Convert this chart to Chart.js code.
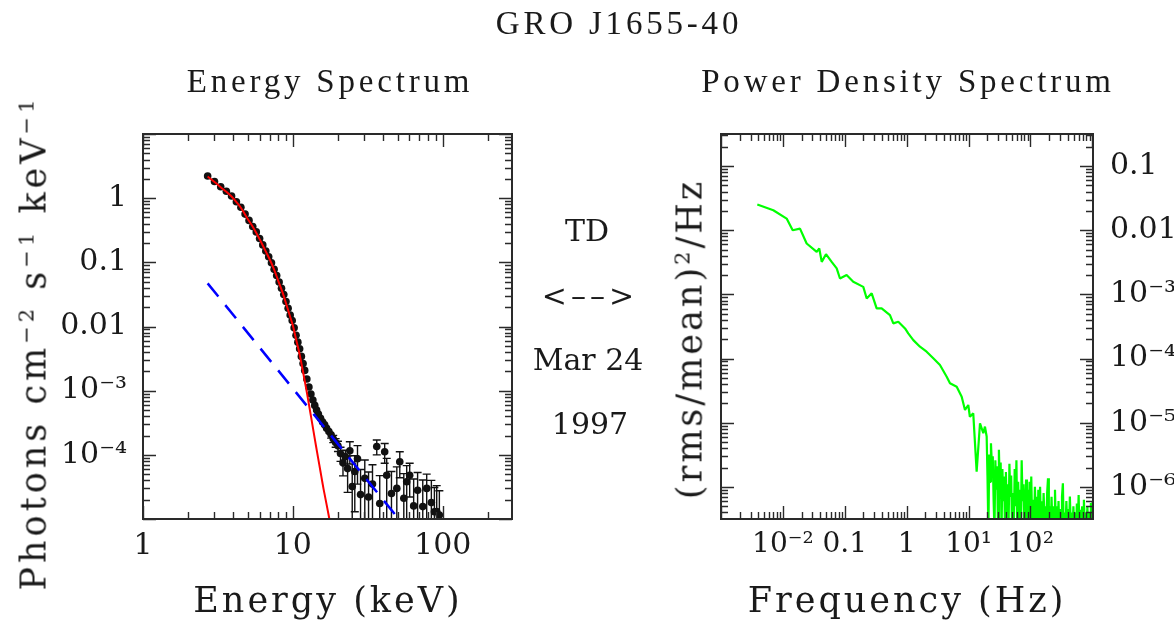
<!DOCTYPE html>
<html>
<head>
<meta charset="utf-8">
<title>GRO J1655-40</title>
<script src="https://cdn.jsdelivr.net/npm/chart.js@4.4.1/dist/chart.umd.min.js"></script>
<style>
  html, body { margin: 0; padding: 0; background: #fff; }
  #wrap { position: relative; width: 1174px; height: 623px; overflow: hidden; font-family: "DejaVu Serif", serif; color: #1a1a1a; }
  canvas { position: absolute; left: 0; top: 0; }
  .txt { position: absolute; white-space: nowrap; line-height: 1; transform: translate(-50%, -50%); }
  .title { font-family: "Liberation Serif", serif; font-size: 33px; letter-spacing: 3.8px; }
  .axis { font-size: 35px; letter-spacing: 3px; }
  .mid { font-size: 30px; }
  .rot { transform: translate(-50%, -50%) rotate(-90deg); }
  sup { font-size: 0.6em; vertical-align: 0.55em; line-height: 0; }
</style>
</head>
<body>
<div id="wrap">
  <canvas id="spec" width="1174" height="623"></canvas>
  <canvas id="pds" width="1174" height="623"></canvas>

  <div class="txt title" style="left:619px; top:23px;">GRO J1655-40</div>
  <div class="txt title" style="left:330px; top:81px;">Energy Spectrum</div>
  <div class="txt title" style="left:908px; top:81px;">Power Density Spectrum</div>

  <div class="txt axis" style="left:328px; top:600px;">Energy (keV)</div>
  <div class="txt axis" style="left:907px; top:600px;">Frequency (Hz)</div>
  <div class="txt axis rot" style="left:34px; top:343px; letter-spacing:4px;">Photons cm<sup>−2</sup> s<sup>−1</sup> keV<sup>−1</sup></div>
  <div class="txt axis rot" style="left:690px; top:339px;">(rms/mean)<sup>2</sup>/Hz</div>

  <div class="txt mid" style="left:587px; top:231px;">TD</div>
  <div class="txt mid" style="left:590px; top:296px; letter-spacing:4px;">&lt;––&gt;</div>
  <div class="txt mid" style="left:588px; top:360px;">Mar 24</div>
  <div class="txt mid" style="left:590px; top:424px;">1997</div>
</div>

<script>
// ---- energy spectrum: unfolded photon spectrum ----
const specEnergy = [2.7, 3.0, 3.3, 3.6, 3.9, 4.2, 4.5, 4.8, 5.1, 5.4, 5.7, 6.0, 6.3, 6.6, 6.9,
  7.2, 7.5, 7.8, 8.1, 8.4, 8.7, 9.0, 9.3, 9.6, 9.9, 10.2, 10.5, 10.8, 11.1, 11.4, 11.7, 12.0,
  12.4, 12.8, 13.2, 13.6, 14.0, 14.4, 14.8, 15.3, 15.8, 16.3, 16.8, 17.4, 18.0, 18.6, 19.3,
  20.0, 20.8, 21.6, 22.4, 23.2, 24.0, 24.9, 25.9, 27.0, 28.3, 30.2, 32.0, 34.0, 36.3, 38.0,
  41.0, 42.3, 45.5, 49.4, 51.7, 55.0, 57.5, 60.2, 64.0, 68.0, 73.6, 78.2, 84.0, 88.0, 91.2, 95.0];
const specFlux = [2.22, 1.82, 1.51, 1.28, 1.08, 0.88, 0.72, 0.565, 0.45, 0.362, 0.298, 0.235,
  0.187, 0.150, 0.122, 0.0982, 0.0778, 0.0621, 0.0493, 0.0394, 0.0314, 0.0245, 0.0192, 0.0151,
  0.0124, 0.00953, 0.00732, 0.0057, 0.00449, 0.00342, 0.00264, 0.00207, 0.00152, 0.00114,
  8.88e-4, 7.13e-4, 5.89e-4, 5.0e-4, 4.34e-4, 3.72e-4, 3.24e-4, 2.95e-4, 2.6e-4, 2.3e-4,
  2.05e-4, 1.78e-4, 1.55e-4, 1.38e-4, 1.05e-4, 7.5e-5, 9.3e-5, 6.1e-5, 1.16e-4, 3.2e-5,
  5.5e-5, 8.7e-5, 2.4e-5, 4.3e-5, 2.2e-5, 3.5e-5, 1.35e-4, 1.74e-5, 1.12e-4, 4.8e-5, 2.5e-5,
  3.0e-5, 7.8e-5, 2.1e-5, 3.8e-5, 4.8e-5, 1.6e-5, 2.8e-5, 1.56e-5, 3.0e-5, 1.8e-5, 1.3e-5,
  1.31e-5, 1.15e-5];
const specErr = [0.03, 0.025, 0.02, 0.017, 0.014, 0.012, 0.01, 0.008, 0.006, 0.005, 0.004, 0.0033,
  0.0027, 0.0022, 0.0018, 0.0015, 0.0012, 0.001, 0.0008, 0.00065, 0.00052, 0.00042, 0.00034,
  0.00028, 0.00024, 0.0002, 0.00016, 0.00013, 0.00011, 9e-5, 7e-5, 6e-5, 5e-5, 4e-5, 3.4e-5,
  3e-5, 2.7e-5, 2.5e-5, 2.4e-5, 2.3e-5, 2.2e-5, 2.2e-5, 2.2e-5, 2.2e-5, 2.3e-5, 2.3e-5, 2.4e-5,
  2.5e-5, 2.6e-5, 2.8e-5, 2.5e-5, 3.5e-5, 4.4e-5, 4.0e-5, 4.2e-5, 5.2e-5, 3.5e-5, 4.0e-5,
  3.2e-5, 3.5e-5, 3.5e-5, 3.0e-5, 3.8e-5, 4.0e-5, 3.0e-5, 3.5e-5, 3.4e-5, 3.0e-5, 3.0e-5,
  2.6e-5, 2.6e-5, 2.5e-5, 2.5e-5, 2.0e-5, 2.2e-5, 1.8e-5, 2.0e-5, 1.6e-5];

// multicolour disk component (red)
const diskEnergy = [2.7, 3.0, 3.3, 3.6, 3.9, 4.2, 4.5, 5.0, 5.5, 6.0, 6.5, 7.0, 7.5, 8.0, 8.5,
  9.0, 9.5, 10, 10.5, 11, 11.5, 12, 12.5, 13, 13.5, 14, 14.5, 15, 15.5, 16, 16.5, 17, 17.5, 18];
const diskFlux = [2.17, 1.785, 1.484, 1.26, 1.061, 0.868, 0.708, 0.475, 0.334, 0.230, 0.1577,
  0.1118, 0.0773, 0.0511, 0.0349, 0.0230, 0.0152, 0.01035, 0.00638, 0.00403, 0.0024, 0.001426,
  8.45e-4, 4.95e-4, 2.96e-4, 1.79e-4, 1.11e-4, 7.1e-5, 4.57e-5, 3.0e-5, 2.08e-5, 1.45e-5,
  1.02e-5, 7.2e-6];

// power-law component (blue dashed)
const plEnergy = [2.7, 5, 10, 20, 50, 60];
const plFlux = [0.047, 7.96e-3, 1.08e-3, 1.47e-4, 1.05e-5, 6.2e-6];

const energyTicks = [1, 10, 100];
const energyTickText = ['1', '10', '100'];
const fluxTicks = [1, 0.1, 0.01, 1e-3, 1e-4];
const fluxTickText = ['1', '0.1', '0.01', '10⁻³', '10⁻⁴'];

// ---- power density spectrum ----
const pdsFreq = [3.86e-3, 7.0e-3, 0.0115, 0.0144, 0.0189, 0.0242, 0.0352, 0.0387, 0.0424, 0.0497,
  0.0614, 0.0740, 0.0836, 0.107, 0.137, 0.199, 0.226, 0.272, 0.327, 0.394,
  0.537, 0.608, 0.732, 0.94, 1.06, 1.28, 1.64, 2.10, 2.69, 3.45,
  4.43, 5.01, 6.43, 7.74, 8.75, 9.89, 10.5, 11.9, 13.5, 15.3,
  17.3, 18.4,
  19.6, 20.2, 20.9, 21.6, 22.3, 23.0, 23.8, 24.6, 25.4, 26.2,
  27.1, 28.0, 28.9, 29.9, 30.9, 31.9, 33.0, 34.1, 35.2, 36.4,
  37.6, 38.8, 40.1, 41.4, 42.8, 44.2, 45.7, 47.2, 48.8, 50.4,
  52.1, 53.8, 55.6, 57.4, 59.3, 61.3, 63.3, 65.4, 67.6, 69.8,
  72.1, 74.5, 77.0, 79.5, 82.2, 84.9, 87.7, 90.6, 93.6, 96.7,
  99.9, 103, 107, 110, 114, 118, 122, 126, 130, 134,
  139, 143, 148, 153, 158, 163, 169, 174, 180, 186,
  192, 198, 205, 212, 219, 226, 233, 241, 249, 257,
  266, 275, 284, 293, 303, 313, 323, 334, 345, 356,
  368, 380, 393, 406, 419, 433, 448, 462, 478, 494,
  510, 527, 544, 562, 581, 600, 620, 641, 662, 684,
  706, 730, 754, 779, 805, 831, 859, 887, 917, 947,
  978, 1010, 1024];
const pdsPower = [0.0251, 0.0205, 0.0152, 0.0100, 0.0106, 6.21e-3, 4.59e-3, 5.19e-3, 3.21e-3, 4.23e-3,
  3.21e-3, 2.54e-3, 1.77e-3, 2.0e-3, 1.57e-3, 1.31e-3, 8.65e-4, 1.04e-3, 6.04e-4, 6.04e-4,
  4.75e-4, 3.53e-4, 3.74e-4, 2.95e-4, 2.47e-4, 1.94e-4, 1.53e-4, 1.28e-4, 1.01e-4, 7.92e-5,
  5.21e-5, 4.11e-5, 3.64e-5, 2.54e-5, 1.58e-5, 1.89e-5, 1.24e-5, 1.40e-5, 1.73e-6, 9.8e-6,
  6.85e-6, 8.7e-6,
  6.1e-6, 1.5e-6, 2e-7, 3.2e-6, 1.2e-6, 4.8e-6, 2.2e-6, 3.0e-6, 6e-7, 2e-7,
  2.6e-6, 9e-7, 2.1e-6, 2e-7, 3.8e-6, 1.1e-6, 2.4e-6, 2e-7, 1.9e-6, 6e-7,
  1.45e-6, 2e-7, 1.7e-6, 4e-7, 1.1e-6, 2e-7, 2.3e-6, 7e-7, 1.5e-6, 2e-7,
  8e-7, 2e-7, 1.9e-6, 5e-7, 2.6e-6, 2e-7, 1.2e-6, 3e-7, 9e-7, 2e-7,
  2.6e-6, 6e-7, 1.1e-6, 2e-7, 4.4e-7, 1.3e-6, 2e-7, 9e-7, 2.5e-7, 1.2e-6,
  3e-7, 1.45e-6, 2e-7, 6.3e-7, 2e-7, 1.0e-6, 3e-7, 7e-7, 2e-7, 9e-7,
  2.5e-7, 1.0e-6, 2e-7, 6e-7, 2e-7, 8e-7, 3e-7, 5e-7, 2e-7, 8e-7,
  1.36e-6, 2e-7, 5e-7, 2e-7, 7e-7, 2.5e-7, 5e-7, 2e-7, 9e-7, 2.5e-7,
  5e-7, 2e-7, 6e-7, 2e-7, 4.5e-7, 2e-7, 7e-7, 1.14e-6, 2e-7, 4e-7,
  2e-7, 6e-7, 2.5e-7, 4.5e-7, 2e-7, 7.1e-7, 2.5e-7, 4e-7, 2e-7, 5e-7,
  2e-7, 4e-7, 2e-7, 5.5e-7, 2.5e-7, 7.5e-7, 2e-7, 4.4e-7, 2e-7, 5e-7,
  2e-7, 6.3e-7, 2.5e-7, 4e-7, 2e-7, 5e-7, 2e-7, 4e-7, 2e-7, 5.6e-7,
  2.5e-7, 6e-7, 4.5e-7];

const freqTicks = [0.01, 0.1, 1, 10, 100];
const freqTickText = ['10⁻²', '0.1', '1', '10¹', '10²'];
const powerTicks = [0.1, 0.01, 1e-3, 1e-4, 1e-5, 1e-6];
const powerTickText = ['0.1', '0.01', '10⁻³', '10⁻⁴', '10⁻⁵', '10⁻⁶'];

const W = 1174, H = 623;
const ink = '#2a2a2a';

function pairs(xs, ys) {
  return xs.map((x, i) => ({ x: x, y: ys[i] }));
}

function tickLabel(vals, texts) {
  return function (v) {
    for (let i = 0; i < vals.length; i++) {
      if (Math.abs(v / vals[i] - 1) < 1e-6) return texts[i];
    }
    return '';
  };
}

// box plus inward log ticks on all four sides
const framePlugin = {
  id: 'frame',
  afterDatasetsDraw(chart) {
    const { ctx, chartArea: a } = chart;
    const sx = chart.scales.x, sy = chart.scales.y;
    ctx.save();
    ctx.strokeStyle = ink;
    ctx.lineWidth = 1.4;
    ctx.beginPath();
    const walk = (scale, fn) => {
      const lo = Math.floor(Math.log10(scale.min)), hi = Math.ceil(Math.log10(scale.max));
      for (let e = lo; e <= hi; e++) {
        for (let m = 1; m <= 9; m++) {
          const v = m * Math.pow(10, e);
          if (v < scale.min * 0.9999 || v > scale.max * 1.0001) continue;
          fn(scale.getPixelForValue(v), m === 1 ? 13 : 7);
        }
      }
    };
    walk(sx, (p, len) => {
      p = Math.round(p) + 0.5;
      ctx.moveTo(p, a.bottom); ctx.lineTo(p, a.bottom - len);
      ctx.moveTo(p, a.top); ctx.lineTo(p, a.top + len);
    });
    walk(sy, (p, len) => {
      p = Math.round(p) + 0.5;
      ctx.moveTo(a.left, p); ctx.lineTo(a.left + len, p);
      ctx.moveTo(a.right, p); ctx.lineTo(a.right - len, p);
    });
    ctx.stroke();
    ctx.lineWidth = 2;
    ctx.strokeRect(a.left, a.top, a.right - a.left, a.bottom - a.top);
    ctx.restore();
  }
};

// energy bin bars and flux error bars, under the points
const errorBarPlugin = {
  id: 'errbars',
  beforeDatasetsDraw(chart) {
    const { ctx, chartArea: a } = chart;
    const sx = chart.scales.x, sy = chart.scales.y;
    const n = specEnergy.length;
    ctx.save();
    ctx.beginPath();
    ctx.rect(a.left, a.top, a.right - a.left, a.bottom - a.top);
    ctx.clip();
    ctx.strokeStyle = '#111';
    ctx.lineWidth = 1.4;
    ctx.beginPath();
    specEnergy.forEach((e, i) => {
      const x = sx.getPixelForValue(e);
      const y = sy.getPixelForValue(specFlux[i]);
      // bin edges half way (in log) to the neighbouring channels
      const xl = i > 0 ? (x + sx.getPixelForValue(specEnergy[i - 1])) / 2 : x - 2;
      const xr = i < n - 1 ? (x + sx.getPixelForValue(specEnergy[i + 1])) / 2 : x + 2;
      ctx.moveTo(xl, y); ctx.lineTo(xr, y);
      const hiV = specFlux[i] + specErr[i];
      const loV = specFlux[i] - specErr[i];
      const yHi = sy.getPixelForValue(hiV);
      const yLo = loV > sy.min ? sy.getPixelForValue(loV) : a.bottom + 5;
      ctx.moveTo(x, yHi); ctx.lineTo(x, yLo);
      if (y - yHi > 3) { ctx.moveTo(x - 4, yHi); ctx.lineTo(x + 4, yHi); }
      if (loV > sy.min && yLo - y > 3) { ctx.moveTo(x - 4, yLo); ctx.lineTo(x + 4, yLo); }
    });
    ctx.stroke();
    ctx.restore();
  }
};

const tickFont = { family: 'DejaVu Serif', size: 30 };

new Chart(document.getElementById('spec'), {
  type: 'scatter',
  data: {
    datasets: [
      {
        label: 'disk',
        data: pairs(diskEnergy, diskFlux),
        showLine: true,
        borderColor: '#ff0000',
        borderWidth: 2,
        pointRadius: 0,
        tension: 0.3
      },
      {
        label: 'power law',
        data: pairs(plEnergy, plFlux),
        showLine: true,
        borderColor: '#0000ff',
        borderWidth: 2.5,
        borderDash: [17, 11],
        pointRadius: 0
      },
      {
        label: 'data',
        data: pairs(specEnergy, specFlux),
        showLine: false,
        pointRadius: 3.8,
        pointBackgroundColor: '#111',
        pointBorderWidth: 0
      }
    ]
  },
  options: {
    responsive: false,
    animation: false,
    layout: { padding: { left: 0, top: 134, right: W - 512, bottom: 0 } },
    plugins: { legend: { display: false }, tooltip: { enabled: false } },
    scales: {
      x: {
        type: 'logarithmic', min: 1, max: 290,
        grid: { display: false, drawTicks: false },
        border: { display: false },
        afterBuildTicks: (s) => { s.ticks = energyTicks.map(v => ({ value: v })); },
        afterFit: (s) => { s.height = 104; },
        ticks: { autoSkip: false, maxRotation: 0, padding: 9, color: '#1a1a1a', font: tickFont,
          callback: tickLabel(energyTicks, energyTickText) }
      },
      y: {
        type: 'logarithmic', min: 1e-5, max: 10,
        grid: { display: false, drawTicks: false },
        border: { display: false },
        afterBuildTicks: (s) => { s.ticks = fluxTicks.map(v => ({ value: v })); },
        afterFit: (s) => { s.width = 143; },
        ticks: { autoSkip: false, padding: 16, color: '#1a1a1a', font: tickFont,
          callback: tickLabel(fluxTicks, fluxTickText) }
      }
    }
  },
  plugins: [errorBarPlugin, framePlugin]
});

new Chart(document.getElementById('pds'), {
  type: 'scatter',
  data: {
    datasets: [{
      label: 'PDS',
      data: pairs(pdsFreq, pdsPower),
      showLine: true,
      borderColor: '#00ff00',
      borderWidth: 2.2,
      borderJoinStyle: 'bevel',
      pointRadius: 0
    }]
  },
  options: {
    responsive: false,
    animation: false,
    layout: { padding: { left: 721, top: 134, right: 0, bottom: 0 } },
    plugins: { legend: { display: false }, tooltip: { enabled: false } },
    scales: {
      x: {
        type: 'logarithmic', min: 1e-3, max: 1024,
        grid: { display: false, drawTicks: false },
        border: { display: false },
        afterBuildTicks: (s) => { s.ticks = freqTicks.map(v => ({ value: v })); },
        afterFit: (s) => { s.height = 104; },
        ticks: { autoSkip: false, maxRotation: 0, padding: 9, color: '#1a1a1a',
          font: { family: 'DejaVu Serif', size: 28 },
          callback: tickLabel(freqTicks, freqTickText) }
      },
      y: {
        type: 'logarithmic', position: 'right', min: 3.16e-7, max: 0.316,
        grid: { display: false, drawTicks: false },
        border: { display: false },
        afterBuildTicks: (s) => { s.ticks = powerTicks.map(v => ({ value: v })); },
        afterFit: (s) => { s.width = W - 1093; },
        ticks: { autoSkip: false, padding: 17, color: '#1a1a1a', font: tickFont,
          callback: tickLabel(powerTicks, powerTickText) }
      }
    }
  },
  plugins: [framePlugin]
});
</script>
</body>
</html>
